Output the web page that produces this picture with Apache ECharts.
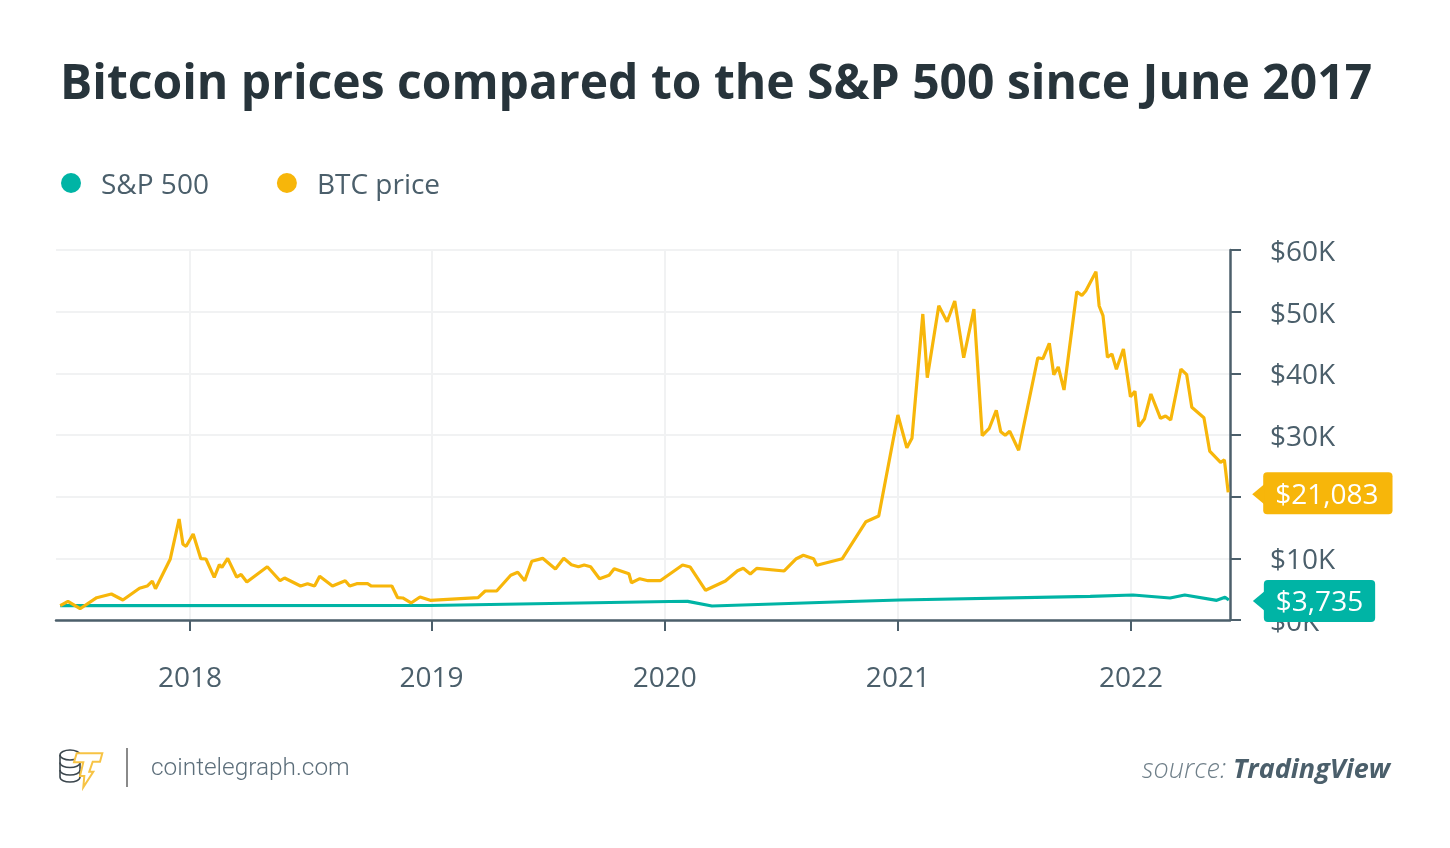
<!DOCTYPE html>
<html lang="en" style="height: 100%">
<head>
  <meta charset="utf-8">
</head>
<body style="height: 100%; margin: 0; background: #fff">
  <div id="container" style="height: 100%"></div>

  <script type="text/javascript" src="https://cdn.jsdelivr.net/npm/echarts@6/dist/echarts.min.js"></script>

  <script type="text/javascript">
    // x values are days counted from 1 Jan 2018
    var tickDays = [0, 378, 743, 1108, 1473];
    var tickLabels = ['2018', '2019', '2020', '2021', '2022'];

    var btcDays = [-203, -191, -172, -146, -123, -105, -79, -67, -59, -54, -31, -17, -11, -6, 5, 17, 25, 38, 46, 50, 59, 73, 80, 89, 121, 141, 148, 173, 184, 195, 203, 223, 243, 250, 261, 278, 284, 316, 325, 333, 346, 360, 376, 451, 462, 480, 502, 513, 524, 535, 552, 572, 585, 597, 608, 617, 627, 641, 656, 664, 687, 691, 704, 717, 736, 771, 783, 807, 838, 857, 866, 877, 887, 930, 949, 960, 976, 981, 1021, 1058, 1078, 1108, 1122, 1130, 1147, 1154, 1172, 1185, 1197, 1211, 1227, 1240, 1251, 1262, 1269, 1276, 1283, 1297, 1327, 1335, 1345, 1352, 1359, 1368, 1388, 1396, 1402, 1418, 1423, 1429, 1436, 1443, 1450, 1461, 1472, 1479, 1485, 1494, 1504, 1519, 1527, 1535, 1551, 1560, 1568, 1587, 1596, 1613, 1619, 1625];
    var btcPrice = [2320, 3030, 1830, 3620, 4220, 3240, 5140, 5510, 6320, 5080, 9840, 16380, 12280, 11950, 13950, 9940, 9890, 6920, 8970, 8550, 10000, 6970, 7380, 6160, 8640, 6370, 6810, 5510, 5890, 5510, 7090, 5510, 6370, 5510, 5890, 5890, 5510, 5510, 3620, 3570, 2760, 3730, 3190, 3620, 4700, 4700, 7250, 7740, 6370, 9520, 10000, 8270, 10000, 8970, 8640, 8920, 8640, 6700, 7250, 8320, 7510, 6050, 6700, 6370, 6370, 8920, 8590, 4820, 6320, 7990, 8380, 7460, 8380, 7950, 9940, 10490, 9940, 8870, 9940, 15940, 16860, 33240, 27940, 29460, 49620, 39290, 50970, 48370, 51730, 42530, 50430, 29890, 31090, 34000, 30530, 29950, 30600, 27520, 42530, 42370, 44870, 39780, 41030, 37300, 53240, 52650, 53350, 56480, 50920, 49350, 42600, 43130, 40650, 43950, 36210, 37090, 31350, 32640, 36650, 32710, 33080, 32430, 40700, 39780, 34490, 32800, 27400, 25570, 25950, 20700];

    var spDays = [-203, 376, 751, 779, 817, 1033, 1111, 1409, 1476, 1534, 1557, 1607, 1620, 1626];
    var spValue = [2320, 2350, 3000, 3030, 2270, 3000, 3240, 3840, 4050, 3570, 4050, 3190, 3680, 3240];

    var endTagBtc = '$21,083';
    var endTagSp = '$3,735';

    var yTicksMax = 60000;
    var textColor = '#4b5f6b';
    var axisColor = '#4c5f6b';
    var gridColor = '#f1f2f3';
    var btcColor = '#f7b60a';
    var spColor = '#00b4a5';

    function zip(xs, ys) {
      return xs.map(function (x, i) { return [x, ys[i]]; });
    }

    function lineSeries(name, color, days, values, tag, labelOffset, arrowOffset, tagPadRight) {
      var last = days.length - 1;
      return {
        name: name,
        type: 'line',
        data: zip(days, values),
        showSymbol: false,
        symbol: 'none',
        color: color,
        lineStyle: { color: color, width: 3.2 },
        endLabel: {
          show: true,
          formatter: '{t|' + tag + '}',
          distance: 35,
          offset: labelOffset,
          backgroundColor: color,
          borderRadius: 4,
          padding: [3, tagPadRight, 3, 12],
          rich: {
            t: {
              color: '#fff',
              fontFamily: 'Open Sans',
              fontSize: 28,
              lineHeight: 36,
              padding: [5, 0, 0, 0]
            }
          }
        },
        markPoint: {
          silent: true,
          symbol: 'triangle',
          symbolSize: [20, 12],
          symbolRotate: 90,
          symbolOffset: arrowOffset,
          itemStyle: { color: color },
          label: { show: false },
          data: [{ coord: [days[last], values[last]] }]
        }
      };
    }

    function coinCurve(y) {
      return {
        type: 'bezierCurve',
        shape: { x1: 60, y1: y, cpx1: 60, cpy1: y + 6.6, cpx2: 80, cpy2: y + 6.6, x2: 80, y2: y },
        style: { fill: 'none', stroke: '#3b464d', lineWidth: 1.6 }
      };
    }

    var dom = document.getElementById('container');
    var myChart = echarts.init(dom, null, { renderer: 'canvas' });

    var option = {
      animation: false,
      backgroundColor: '#fff',
      title: {
        text: 'Bitcoin prices compared to the S&P 500 since June 2017',
        left: 60,
        top: 61,
        padding: 0,
        textStyle: {
          fontFamily: 'Open Sans',
          fontWeight: 'bold',
          fontSize: 48,
          color: '#27343b'
        }
      },
      legend: {
        left: 61,
        top: 172,
        padding: 0,
        itemWidth: 20,
        itemHeight: 20,
        itemGap: 68,
        selectedMode: false,
        formatter: '{t|{name}}',
        textStyle: {
          padding: [0, 0, 0, 15],
          rich: {
            t: {
              fontFamily: 'Open Sans',
              fontSize: 28,
              color: textColor,
              padding: [6, 0, 0, 0]
            }
          }
        },
        data: [
          { name: 'S&P 500', icon: 'circle' },
          { name: 'BTC price', icon: 'circle' }
        ]
      },
      grid: { left: 56, right: 220, top: 250, bottom: 228 },
      xAxis: {
        type: 'value',
        min: -209.7,
        max: 1627.8,
        axisLine: { onZero: false, lineStyle: { color: axisColor, width: 2.5 } },
        axisTick: { length: 11, customValues: tickDays, lineStyle: { color: axisColor, width: 2 } },
        splitLine: { show: true, lineStyle: { color: gridColor, width: 2 } },
        axisLabel: {
          customValues: tickDays,
          margin: 45,
          fontFamily: 'Open Sans',
          fontSize: 28,
          color: textColor,
          formatter: function (v) { return tickLabels[tickDays.indexOf(v)]; }
        }
      },
      yAxis: {
        type: 'value',
        position: 'right',
        min: 0,
        max: yTicksMax,
        interval: 10000,
        axisLine: { show: true, onZero: false, lineStyle: { color: axisColor, width: 2.5 } },
        axisTick: { show: true, length: 11, lineStyle: { color: axisColor, width: 2 } },
        splitLine: { show: true, lineStyle: { color: gridColor, width: 2 } },
        axisLabel: {
          margin: 40,
          verticalAlign: 'top',
          lineHeight: 6,
          fontFamily: 'Open Sans',
          fontSize: 28,
          color: textColor,
          formatter: function (v) { return '$' + v / 1000 + 'K'; }
        }
      },
      series: [
        lineSeries('S&P 500', spColor, spDays, spValue, endTagSp, [0, 1], [30, 1], 12),
        lineSeries('BTC price', btcColor, btcDays, btcPrice, endTagBtc, [0, 1], [30, 2], 14)
      ],
      graphic: [
        {
          type: 'ellipse',
          shape: { cx: 70, cy: 755, rx: 10, ry: 5 },
          style: { fill: 'none', stroke: '#3b464d', lineWidth: 1.6 }
        },
        {
          type: 'line',
          shape: { x1: 60, y1: 755, x2: 60, y2: 777 },
          style: { stroke: '#3b464d', lineWidth: 1.6 }
        },
        {
          type: 'line',
          shape: { x1: 80, y1: 755, x2: 80, y2: 777 },
          style: { stroke: '#3b464d', lineWidth: 1.6 }
        },
        coinCurve(762.5),
        coinCurve(770),
        coinCurve(777),
        {
          type: 'polygon',
          shape: {
            points: [[76.7, 753.3], [102.3, 753.3], [100, 761.7], [92.7, 761.7], [89.3, 771.7], [93.3, 771.7], [83.3, 787.3], [84.3, 776], [80, 776], [83.3, 762.3], [74, 762.3]]
          },
          style: { fill: '#fff', stroke: '#f7c344', lineWidth: 2 }
        },
        {
          type: 'line',
          shape: { x1: 127, y1: 748, x2: 127, y2: 787 },
          style: { stroke: '#8a8a8a', lineWidth: 2 }
        },
        {
          type: 'text',
          left: 151,
          top: 757,
          style: {
            text: 'cointelegraph.com',
            font: '300 24.4px Roboto',
            fill: '#5d6f7b'
          }
        },
        {
          type: 'text',
          right: 60,
          top: 757,
          style: {
            text: '{a|source: }{b|TradingView}',
            rich: {
              a: { font: 'italic 300 27px "Open Sans"', fill: '#6f7f89' },
              b: { font: 'italic bold 27px "Open Sans"', fill: '#4b5f6b' }
            }
          }
        }
      ]
    };

    myChart.setOption(option);
    window.addEventListener('resize', myChart.resize);
  </script>
</body>
</html>
